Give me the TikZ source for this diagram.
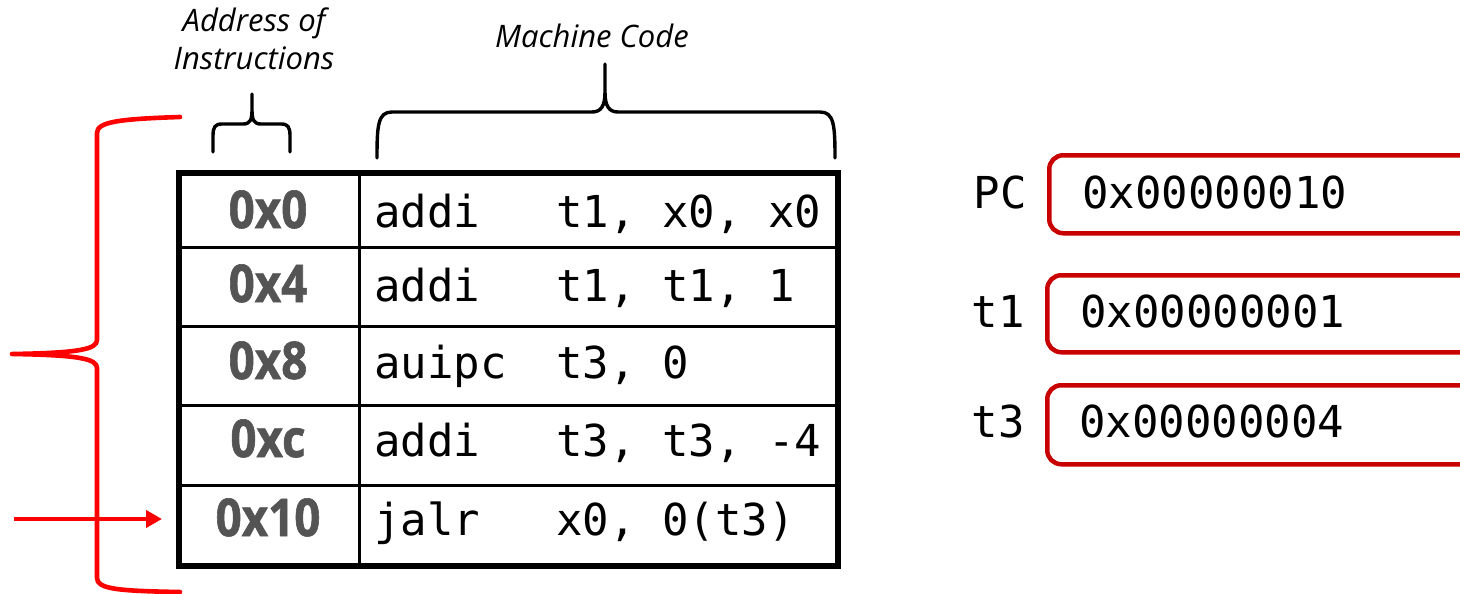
\documentclass[tikz,border=0pt]{standalone}
\usepackage{fontspec}
\setmonofont{DejaVu Sans Mono}
\newfontfamily\titlefont{Open Sans}
\newfontfamily\addrfont[BoldFeatures={FakeBold=1.2,FakeStretch=0.88}]{Open Sans}
\usetikzlibrary{arrows.meta}
\definecolor{regred}{RGB}{200,0,0}
\definecolor{addrgray}{RGB}{84,84,84}

\begin{document}
\begin{tikzpicture}[x=1pt,y=-1pt,
  cell/.style={draw, line width=2.8pt, inner sep=0pt, anchor=north west},
  addr/.style={anchor=base, inner sep=0pt, text=addrgray,
    font=\addrfont\bfseries\fontsize{52}{56}\selectfont},
  code/.style={anchor=base west, inner sep=0pt,
    font=\ttfamily\fontsize{44}{50}\selectfont},
  reglabel/.style={anchor=base east, inner sep=0pt,
    font=\ttfamily\fontsize{44}{50}\selectfont},
  regbox/.style={draw=regred, line width=4.5pt, rounded corners=14pt,
    anchor=north west, minimum width=460pt, inner sep=0pt},
  title/.style={anchor=base, inner sep=0pt,
    font=\titlefont\itshape\fontsize{31}{36}\selectfont},
  brace/.style={line width=3.4pt, line cap=round, line join=round},
  redbrace/.style={red, line width=4.6pt, line cap=round, line join=round}]

\useasboundingbox (0,0) rectangle (1460,594);

% ---- instruction memory table ----
\node[cell, minimum width=179pt, minimum height=73pt] (a1) at (179,173) {};
\node[cell, minimum width=477pt, minimum height=73pt] (c1) at (358,173) {};
\node[cell, minimum width=179pt, minimum height=79pt] (a2) at (179,246) {};
\node[cell, minimum width=477pt, minimum height=79pt] (c2) at (358,246) {};
\node[cell, minimum width=179pt, minimum height=79pt] (a3) at (179,325) {};
\node[cell, minimum width=477pt, minimum height=79pt] (c3) at (358,325) {};
\node[cell, minimum width=179pt, minimum height=80pt] (a4) at (179,404) {};
\node[cell, minimum width=477pt, minimum height=80pt] (c4) at (358,404) {};
\node[cell, minimum width=179pt, minimum height=79pt] (a5) at (179,484) {};
\node[cell, minimum width=477pt, minimum height=79pt] (c5) at (358,484) {};
\draw[line width=5.5pt] (a1.north west) rectangle (c5.south east);

% addresses
\node[addr] (ad1) at (268,228) {0x0};
\node[addr] (ad2) at (268,302) {0x4};
\node[addr] (ad3) at (268,379) {0x8};
\node[addr] (ad4) at (268,457) {0xc};
\node[addr] (ad5) at (268,536) {0x10};

% mnemonics and operands
\node[code] (m1) at (374,227) {addi};
\node[code] (o1) at (556,227) {t1, x0, x0};
\node[code] (m2) at (374,301) {addi};
\node[code] (o2) at (556,301) {t1, t1, 1};
\node[code] (m3) at (374,378) {auipc};
\node[code] (o3) at (556,378) {t3, 0};
\node[code] (m4) at (374,456) {addi};
\node[code] (o4) at (556,456) {t3, t3, -4};
\node[code] (m5) at (374,535) {jalr};
\node[code] (o5) at (556,535) {x0, 0(t3)};

% ---- column headings with braces ----
\node[title] (h1) at (254,32) {Address of};
\node[title] (h2) at (254,70) {Instructions};
\node[title] (h3) at (592,48) {Machine Code};

\draw[brace] (213,152) -- (213,136) .. controls (213,127) and (215,124) .. (222,124)
  -- (243,124) .. controls (250,124) and (252,120) .. (252,110) -- (252,94)
  -- (252,110) .. controls (252,120) and (254,124) .. (261,124)
  -- (281,124) .. controls (288,124) and (290,127) .. (290,136) -- (290,152);

\draw[brace] (377,158) .. controls (377,125) and (378,112) .. (392,112)
  -- (592,112) .. controls (601,112) and (605,106) .. (605,92) -- (605,64)
  -- (605,92) .. controls (605,106) and (609,112) .. (618,112)
  -- (820,112) .. controls (834,112) and (835,125) .. (835,158);

% ---- red brace spanning the program ----
\draw[redbrace] (180,117) .. controls (118,119) and (97,122) .. (97,133)
  -- (97,340) .. controls (97,349) and (80,353) .. (12,354)
  .. controls (80,355) and (97,359) .. (97,368)
  -- (97,578) .. controls (97,589) and (118,591) .. (180,592);

% PC arrow
\coordinate (pcin) at (14,519);
\draw[red, line width=4pt, -{Triangle[length=16pt,width=17pt]}, shorten >=17pt]
  (pcin) -- (a5.west |- pcin);

% ---- registers ----
\node[regbox, minimum height=78pt] (rpc) at (1047,153) {};
\node[regbox, minimum height=77pt] (rt1) at (1045,273) {};
\node[regbox, minimum height=79pt] (rt3) at (1045,383) {};

\node[reglabel] (lpc) at (1027,208) {PC};
\node[reglabel] (lt1) at (1025,327) {t1};
\node[reglabel] (lt3) at (1025,437) {t3};

\node[code] (vpc) at (1082,208) {0x00000010};
\node[code] (vt1) at (1080,327) {0x00000001};
\node[code] (vt3) at (1079,437) {0x00000004};
\end{tikzpicture}
\end{document}
